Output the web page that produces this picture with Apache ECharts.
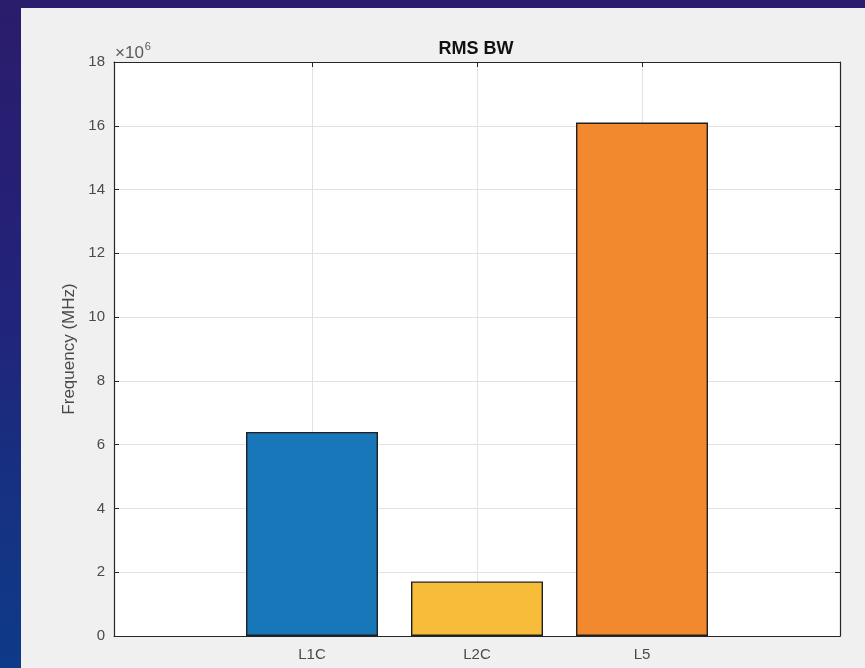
<!DOCTYPE html>
<html>
<head>
<meta charset="utf-8">
<script src="https://cdn.jsdelivr.net/npm/echarts@6/dist/echarts.min.js"></script>
<style>
  html, body { margin: 0; padding: 0; width: 865px; height: 668px; overflow: hidden; }
  body { background: linear-gradient(to bottom, #2b1c6c 0%, #22237a 45%, #143483 80%, #0e3a88 100%); position: relative; }
  #chart { position: absolute; left: 21px; top: 8px; width: 844px; height: 660px; background: #f0f0f0; }
</style>
</head>
<body>
<div id="chart"></div>
<script>
// Signal bands and their RMS bandwidth (Hz)
const categories = ['L1C', 'L2C', 'L5'];
const positions = [1, 2, 3];
const rmsBandwidth = [6.40e6, 1.71e6, 16.10e6];

const barColors = ['#1877b9', '#f7bc3a', '#f2892f'];
const axisColor = '#262626';
const labelColor = '#4a4a4a';
const font = 'Liberation Sans, Arial, Helvetica, sans-serif';

const chart = echarts.init(document.getElementById('chart'), null, { renderer: 'canvas' });

const xBase = {
  type: 'value',
  min: -0.2,
  max: 4.2,
  axisLine: { show: true, onZero: false, lineStyle: { color: axisColor, width: 1.2 } },
  axisTick: { show: true, inside: true, length: 5, customValues: positions, lineStyle: { color: axisColor } },
  axisLabel: { show: false },
  splitLine: { show: false }
};

const yBase = {
  type: 'value',
  min: 0,
  max: 18e6,
  interval: 2e6,
  axisLine: { show: true, onZero: false, lineStyle: { color: axisColor, width: 1.2 } },
  axisTick: { show: true, inside: true, length: 5, lineStyle: { color: axisColor } },
  axisLabel: { show: false },
  splitLine: { show: false }
};

chart.setOption({
  animation: false,
  title: {
    text: 'RMS BW',
    left: 450,
    top: 27,
    textAlign: 'center',
    textStyle: { fontFamily: font, fontSize: 18, fontWeight: 'bold', color: '#111' }
  },
  grid: { left: 93, top: 54, right: 25, bottom: 32, show: true, backgroundColor: '#ffffff', borderWidth: 0 },
  xAxis: [
    Object.assign({}, xBase, {
      position: 'bottom',
      axisLabel: {
        show: true,
        customValues: positions,
        margin: 11,
        color: labelColor,
        fontFamily: font,
        fontSize: 15,
        formatter: function (v) { return categories[positions.indexOf(Math.round(v))] || ''; }
      },
      splitLine: { show: true, lineStyle: { color: '#e2e2e2', width: 1 } }
    }),
    Object.assign({}, xBase, { position: 'top' })
  ],
  yAxis: [
    Object.assign({}, yBase, {
      position: 'left',
      name: 'Frequency (MHz)',
      nameLocation: 'middle',
      nameGap: 34,
      nameTextStyle: { fontFamily: font, fontSize: 17, color: labelColor },
      axisLabel: {
        show: true,
        margin: 9,
        color: labelColor,
        fontFamily: font,
        fontSize: 15,
        formatter: function (v) { return String(Math.round(v / 1e6)); }
      },
      splitLine: { show: true, lineStyle: { color: '#e2e2e2', width: 1 } }
    }),
    Object.assign({}, yBase, { position: 'right' })
  ],
  graphic: [{
    type: 'text',
    left: 94,
    top: 33,
    style: {
      text: '{a|×10}{b|6}',
      rich: {
        a: { fontFamily: font, fontSize: 17, fill: '#5a5a5a', verticalAlign: 'bottom' },
        b: { fontFamily: font, fontSize: 11, fill: '#5a5a5a', verticalAlign: 'top', padding: [0, 0, 10, 1] }
      }
    }
  }],
  series: [{
    type: 'bar',
    xAxisIndex: 0,
    yAxisIndex: 0,
    barWidth: 132,
    data: positions.map(function (p, i) {
      return {
        value: [p, rmsBandwidth[i]],
        itemStyle: { color: barColors[i], borderColor: '#202020', borderWidth: 1.4 }
      };
    }),
    z: 3
  }]
});
</script>
</body>
</html>
